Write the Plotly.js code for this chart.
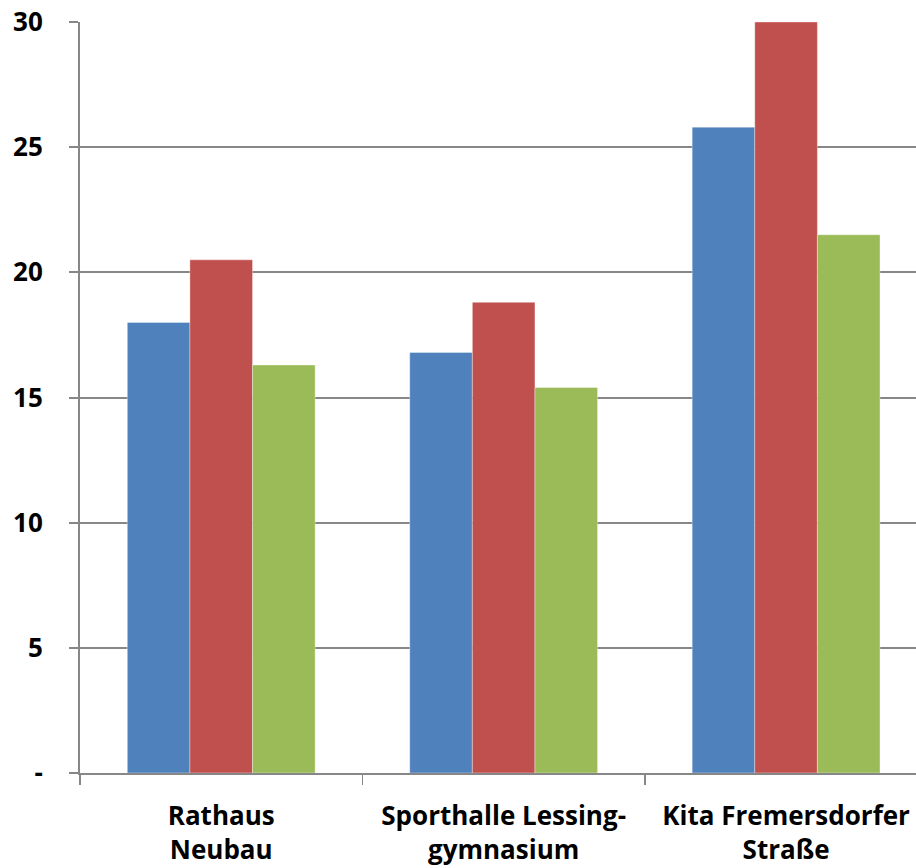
<!DOCTYPE html>
<html>
<head>
<meta charset="utf-8">
<script src="https://cdn.plot.ly/plotly-3.0.1.min.js"></script>
<style>
  html, body { margin: 0; padding: 0; background: #fff; overflow: hidden; }
  #chart { width: 916px; height: 868px; }
</style>
</head>
<body>
<div id="chart"></div>
<script>
// Sites (two-line labels) and the three series per site
const categories = ["Rathaus<br>Neubau", "Sporthalle Lessing-<br>gymnasium", "Kita Fremersdorfer<br>Straße"];
const seriesBlue = [18.0, 16.8, 25.8];
const seriesRed = [20.5, 18.8, 30.0];
const seriesGreen = [16.3, 15.4, 21.5];
const yTickVals = [0, 5, 10, 15, 20, 25, 30];
const yTickText = ["-", "5", "10", "15", "20", "25", "30"];

const colors = ["#4F81BD", "#C0504D", "#9BBB59"];
const gridGray = "#878787";
const labelFont = { family: "Open Sans, sans-serif", size: 26, color: "#000", weight: 700 };

function bar(values, color) {
  return {
    type: "bar",
    x: categories,
    y: values,
    marker: { color: color, line: { color: "rgba(255,255,255,0.45)", width: 0.8 } },
    hoverinfo: "skip"
  };
}

const data = [
  bar(seriesBlue, colors[0]),
  bar(seriesRed, colors[1]),
  bar(seriesGreen, colors[2])
];

const layout = {
  width: 916,
  height: 868,
  margin: { l: 80, r: 0, t: 22, b: 95 },
  paper_bgcolor: "#fff",
  plot_bgcolor: "#fff",
  showlegend: false,
  barmode: "group",
  bargap: 0.335,
  bargroupgap: 0,
  xaxis: {
    type: "category",
    range: [-0.5, 2.46],
    showgrid: false,
    showline: true,
    linecolor: gridGray,
    linewidth: 2,
    ticks: "outside",
    tickson: "boundaries",
    ticklen: 10,
    tickwidth: 1.5,
    tickcolor: gridGray,
    tickfont: labelFont,
    ticklabelstandoff: 19,
    zeroline: false
  },
  yaxis: {
    range: [0, 30],
    tickvals: yTickVals,
    ticktext: yTickText,
    showgrid: true,
    gridcolor: gridGray,
    gridwidth: 2,
    showline: true,
    linecolor: gridGray,
    linewidth: 2,
    ticks: "outside",
    ticklen: 9,
    tickwidth: 2,
    tickcolor: gridGray,
    tickfont: labelFont,
    ticklabelstandoff: 21,
    zeroline: false
  }
};

Plotly.newPlot("chart", data, layout, { displayModeBar: false, staticPlot: true });
</script>
</body>
</html>
